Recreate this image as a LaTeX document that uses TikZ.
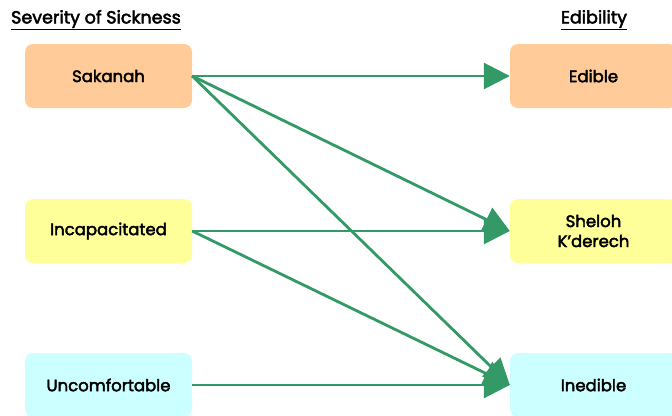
\documentclass[tikz,border=0pt]{standalone}
\usepackage{fontspec}
\setmainfont{Poppins}
\usetikzlibrary{arrows.meta}
\begin{document}
\begin{tikzpicture}[x=1pt,y=1pt,
    box/.style={shape=rectangle,rounded corners=8pt,minimum width=167pt,minimum height=64pt,
      align=center,text=black,font=\addfontfeatures{FakeBold=2.6}\fontsize{16.5}{20}\selectfont},
    heading/.style={font=\addfontfeatures{FakeBold=2.6}\fontsize{17.5}{20}\selectfont},
    link/.style={draw={rgb,255:red,51;green,153;blue,102},line width=2.8pt,
      -{Triangle[length=26pt,width=26pt]}}
  ]
  \useasboundingbox (0,0) rectangle (672,-415);
  \clip (0,0) rectangle (672,-415);
  % headings
  \node[heading] (sevtitle) at (96,-20) {\underline{Severity of Sickness}};
  \node[heading] (edtitle) at (594,-20) {\underline{Edibility}};
  % severity column
  \node[box,fill={rgb,255:red,255;green,204;blue,153}] (sakanah) at (108.5,-76) {Sakanah};
  \node[box,fill={rgb,255:red,255;green,255;blue,153}] (incap) at (108.5,-231) {Incapacitated};
  \node[box,fill={rgb,255:red,204;green,255;blue,255}] (uncomf) at (108.5,-385) {Uncomfortable};
  % edibility column
  \node[box,fill={rgb,255:red,255;green,204;blue,153}] (edible) at (593.5,-76) {Edible};
  \node[box,fill={rgb,255:red,255;green,255;blue,153}] (sheloh) at (593.5,-231) {Sheloh\\K’derech};
  \node[box,fill={rgb,255:red,204;green,255;blue,255}] (inedible) at (593.5,-385) {Inedible};
  % links
  \draw[link] (sakanah.east) -- (edible.west);
  \draw[link] (sakanah.east) -- (sheloh.west);
  \draw[link] (sakanah.east) -- (inedible.west);
  \draw[link] (incap.east) -- (sheloh.west);
  \draw[link] (incap.east) -- (inedible.west);
  \draw[link] (uncomf.east) -- (inedible.west);
\end{tikzpicture}
\end{document}
